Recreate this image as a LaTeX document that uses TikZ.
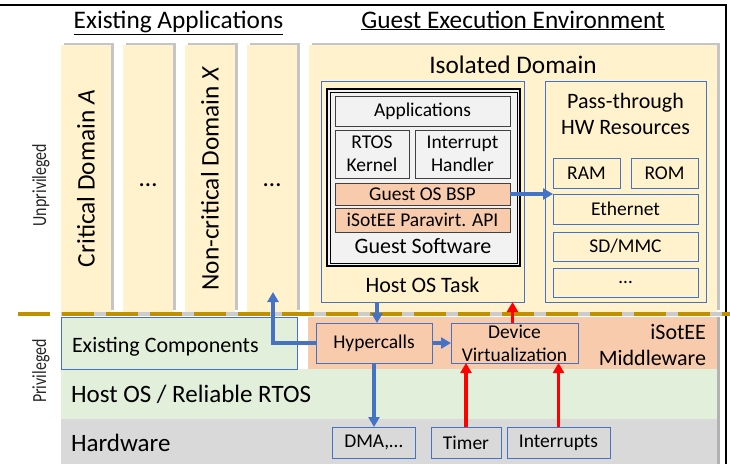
\documentclass[tikz,border=0pt]{standalone}
\usepackage{fontspec}
\setmainfont{Carlito}
\usepackage{tikz}
\usetikzlibrary{arrows.meta,shadows}
\definecolor{domyellow}{HTML}{FFF2CC}
\definecolor{hostgreen}{HTML}{E2EFDA}
\definecolor{hwgray}{HTML}{D9D9D9}
\definecolor{paleorange}{HTML}{F8CBAD}
\definecolor{boxblue}{HTML}{4472C4}
\definecolor{guestgray}{HTML}{F2F2F2}
\definecolor{dashgold}{HTML}{BF9000}

\begin{document}
\begin{tikzpicture}[x=1pt, y=-1pt, >={Triangle[length=10pt, width=11pt]}, every node/.style={inner sep=0pt, outer sep=0pt}]
\tikzstyle{headtext} = [font=\fontsize{25.3}{30}\selectfont]
\tikzstyle{bandtext} = [font=\fontsize{25}{29}\selectfont]
\tikzstyle{midtext} = [font=\fontsize{22}{26}\selectfont]
\tikzstyle{smalltext} = [font=\fontsize{19.5}{23}\selectfont]
\tikzstyle{sidetext} = [font=\fontsize{20}{24}\selectfont, text=black!85]
\tikzstyle{appcol} = [rectangle, fill=domyellow, anchor=north west, minimum width=50pt, minimum height=267pt, drop shadow={shadow xshift=2.5pt, shadow yshift=2.5pt, fill=black!45, opacity=0.5}]
\tikzstyle{layerband} = [rectangle, anchor=north west]
\tikzstyle{blueframe} = [rectangle, draw=boxblue, line width=0.9pt, anchor=north west]
\tikzstyle{guestbox} = [rectangle, draw=black!75, line width=0.8pt, fill=guestgray, anchor=north west, smalltext, align=center]
\tikzstyle{bspbox} = [guestbox, fill=paleorange]
\tikzstyle{hwres} = [blueframe, smalltext, align=center]
\tikzstyle{mwbox} = [blueframe, fill=paleorange, smalltext, align=center]
\tikzstyle{hwbox} = [blueframe, fill=hwgray, smalltext, align=center]
\tikzstyle{bluearrow} = [->, draw=boxblue, line width=3.5pt]
\tikzstyle{redarrow} = [->, draw=red, line width=3.5pt]

\useasboundingbox (0,0) rectangle (730,464);
\draw[line width=2pt] (0,5) -- (726,5) -- (726,464);

\node[headtext, anchor=base] (exapp) at (178.5,28) {\underline{Existing Applications}};
\node[headtext, anchor=base] (guestenv) at (513,28) {\underline{Guest Execution Environment}};

\node[appcol] (critA) at (61,45) {};
\node[appcol] (dotsA) at (123,45) {};
\node[appcol] (noncritX) at (185,45) {};
\node[appcol] (dotsX) at (247,45) {};
\node[appcol, minimum width=408pt] (isodom) at (309,45) {};

\node[headtext, rotate=90] (critAtxt) at (critA.center) {Critical Domain \textit{A}};
\node[headtext] (dotsAtxt) at (148,185) {…};
\node[headtext, rotate=90] (noncritXtxt) at (noncritX.center) {Non-critical Domain \textit{X}};
\node[headtext] (dotsXtxt) at (272,185) {…};
\node[headtext] (isodomtxt) at (513,65) {Isolated Domain};

\node[blueframe, minimum width=203pt, minimum height=221pt] (hosttask) at (321,81) {};
\node[rectangle, draw=black, line width=2.5pt, fill=guestgray, anchor=north west, minimum width=193pt, minimum height=177pt] (guestsw) at (327,89) {};
\draw[line width=0.6pt] ([shift={(3pt,3pt)}]guestsw.south west) rectangle ([shift={(-3pt,-3pt)}]guestsw.north east);
\node[guestbox, minimum width=175pt, minimum height=30pt] (apps) at (335,96) {Applications};
\node[guestbox, minimum width=74pt, minimum height=48pt] (rtos) at (335,130) {RTOS\\Kernel};
\node[guestbox, minimum width=95pt, minimum height=48pt] (irqhdl) at (415,130) {Interrupt\\Handler};
\node[bspbox, minimum width=175pt, minimum height=22pt] (gbsp) at (335,183) {Guest OS BSP};
\node[bspbox, minimum width=175pt, minimum height=24pt] (paravirt) at (335,208) {iSotEE Paravirt. API};
\node[midtext] (guestswtxt) at (423,246) {Guest Software};
\node[midtext] (hosttasktxt) at (422.5,284.5) {Host OS Task};

\node[blueframe, minimum width=161pt, minimum height=221pt] (passthru) at (545,81) {};
\node[midtext, align=center] (passthrutxt) at (625.5,113.5) {Pass-through\\HW Resources};
\node[hwres, minimum width=67pt, minimum height=30pt] (ram) at (553,158) {RAM};
\node[hwres, minimum width=67pt, minimum height=30pt] (rom) at (631,158) {ROM};
\node[hwres, minimum width=145pt, minimum height=30pt] (eth) at (553,194) {Ethernet};
\node[hwres, minimum width=145pt, minimum height=29pt] (sdmmc) at (553,232) {SD/MMC};
\node[hwres, minimum width=145pt, minimum height=29pt] (hwdots) at (553,268) {…};

\fill[black!30] (717,317) rectangle (720,464);
\node[layerband, fill=hwgray, minimum width=656pt, minimum height=45pt] (hwband) at (61,419) {};
\node[layerband, fill=hostgreen, minimum width=656pt, minimum height=50pt] (hostband) at (61,369) {};
\node[layerband, fill=paleorange, minimum width=409pt, minimum height=52pt] (mwband) at (308,317) {};
\node[blueframe, fill=hostgreen, minimum width=236pt, minimum height=52pt] (excomp) at (61,317) {};

\draw[line width=3.5pt, black!20] (61,314) -- (730,314);
\draw[line width=3.5pt, dashgold, dash pattern=on 32pt off 12pt] (18,314) -- (730,314);

\node[midtext, anchor=base west] (excomptxt) at (72,352) {Existing Components};
\node[bandtext, anchor=base west] (hostbandtxt) at (71,402) {Host OS / Reliable RTOS};
\node[bandtext, anchor=base west] (hwbandtxt) at (71,451) {Hardware};
\node[midtext, align=right, anchor=east] (mwbandtxt) at (706,345) {iSotEE\\Middleware};

\node[mwbox, minimum width=116pt, minimum height=40pt] (hyper) at (316,323) {Hypercalls};
\node[mwbox, minimum width=127pt, minimum height=40pt] (devvirt) at (451,323) {Device\\Virtualization};
\node[hwbox, minimum width=83pt, minimum height=31pt] (dma) at (332,427) {DMA,…};
\node[hwbox, minimum width=70pt, minimum height=31pt] (timer) at (431,427) {Timer};
\node[hwbox, minimum width=103pt, minimum height=31pt] (irqs) at (507,427) {Interrupts};

\node[sidetext, rotate=90] (unpriv) at (41,185) {\scalebox{0.8}[1]{Unprivileged}};
\node[sidetext, rotate=90] (priv) at (41,371) {\scalebox{0.8}[1]{Privileged}};

\coordinate (dotsXin) at (273,292);
\draw[bluearrow] (hyper.west) -| (dotsXin);
\draw[bluearrow] ([xshift=3pt]hyper.north |- hosttask.south) -- ([xshift=3pt]hyper.north);
\draw[bluearrow] (hyper.east) -- (devvirt.west);
\draw[bluearrow] (hyper.south) -- (hyper.south |- dma.north);
\draw[bluearrow] (gbsp.east) -- (gbsp.east -| eth.west);
\draw[redarrow] (timer.north) -- (timer.north |- devvirt.south);
\draw[redarrow] (irqs.north) -- (irqs.north |- devvirt.south);
\draw[redarrow] ([xshift=-2pt]devvirt.north) -- ([xshift=-2pt]devvirt.north |- hosttask.south);

\end{tikzpicture}
\end{document}
